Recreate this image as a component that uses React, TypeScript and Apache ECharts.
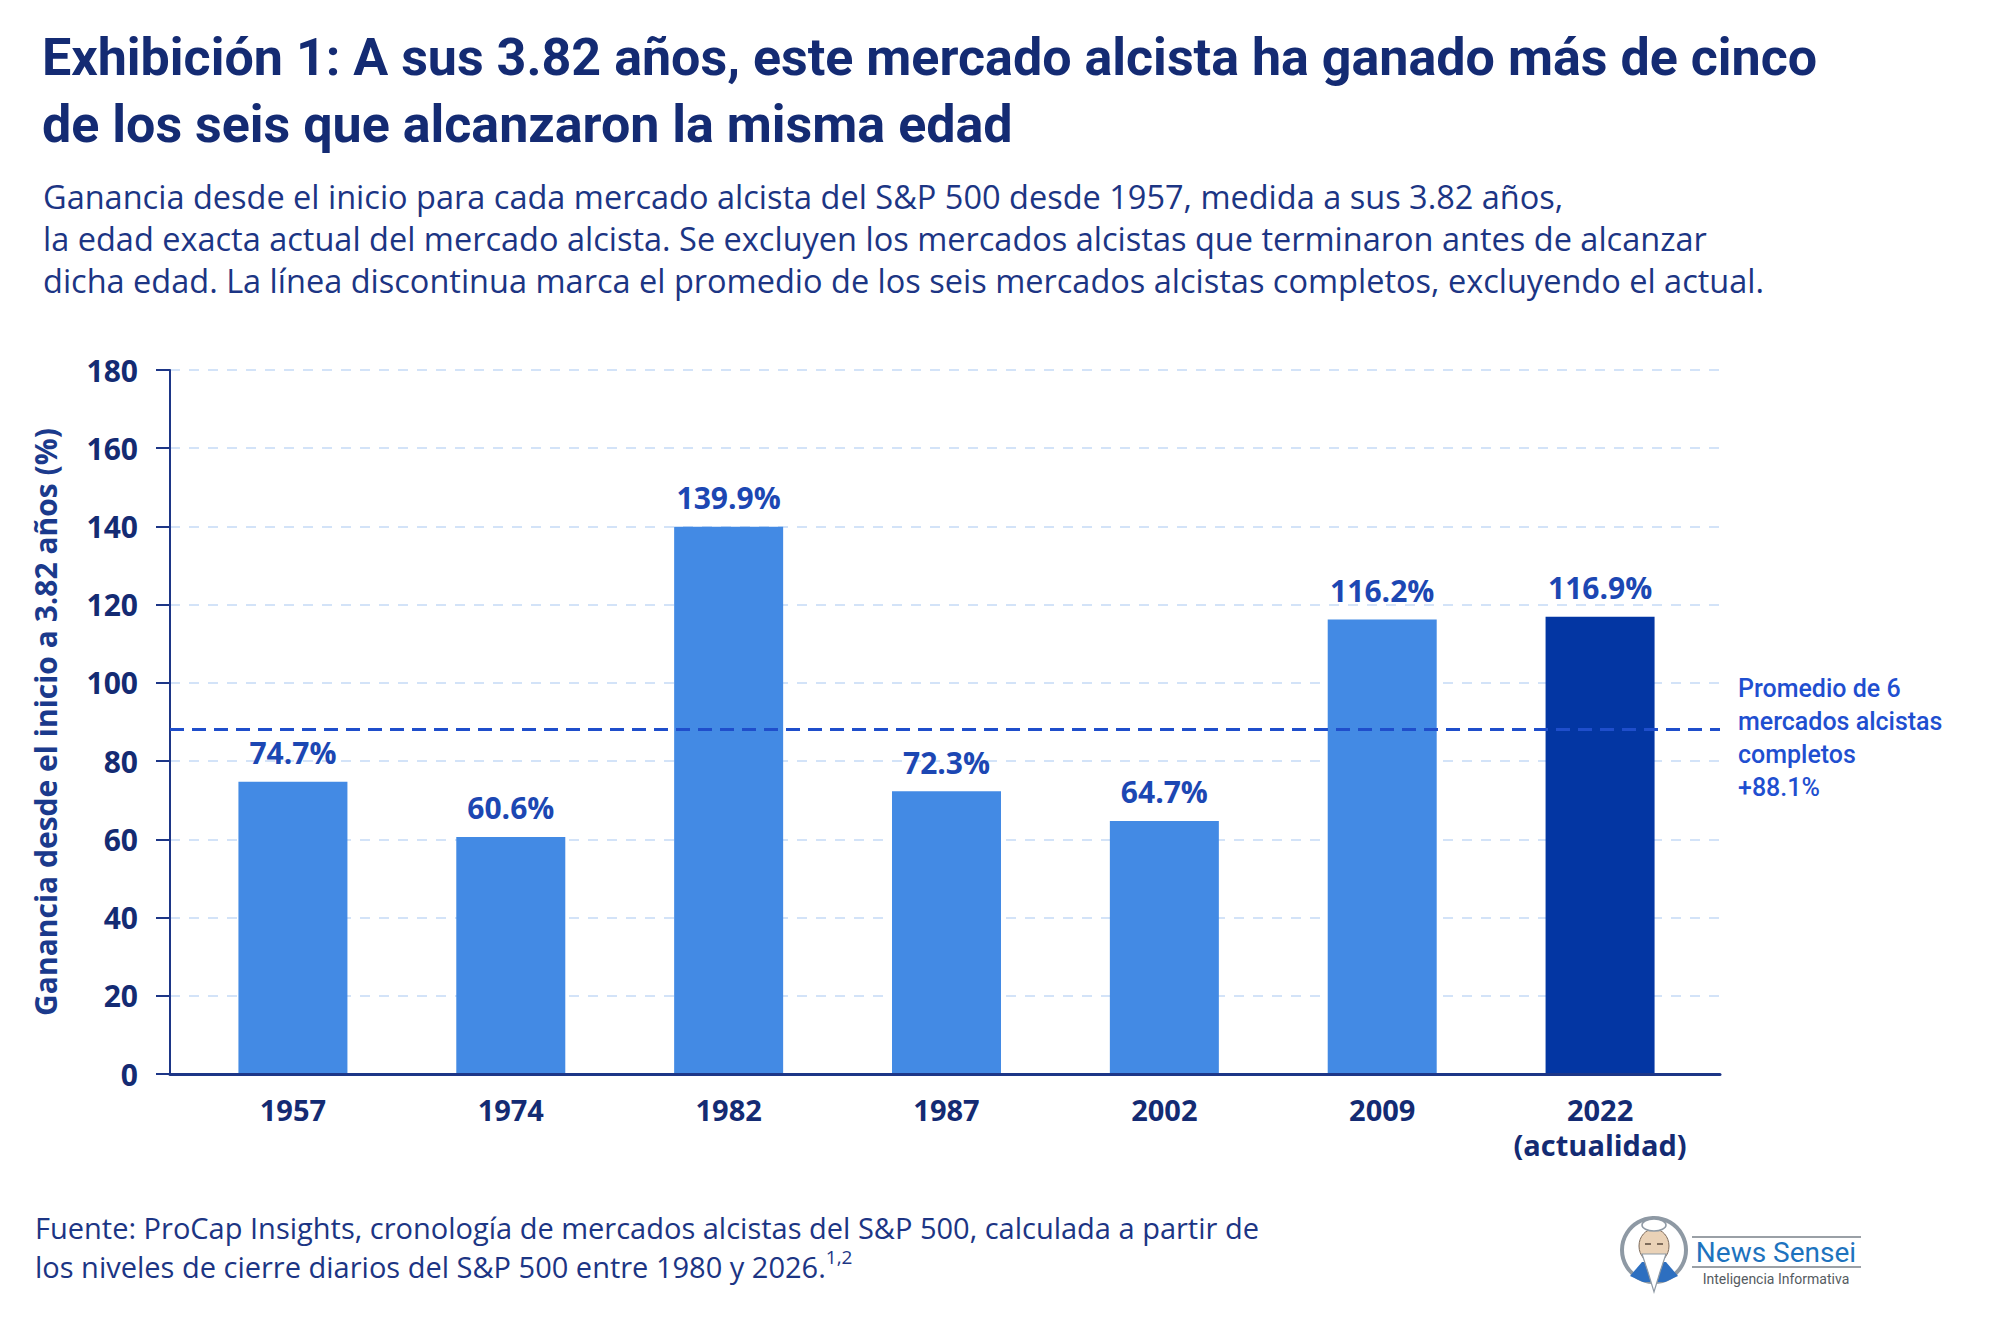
import React, { useEffect, useRef } from "react";
import * as echarts from "echarts";

// ---------- data ----------
const CATEGORIES = ["1957", "1974", "1982", "1987", "2002", "2009", "2022\n(actualidad)"];
const GAINS = [74.7, 60.6, 139.9, 72.3, 64.7, 116.2, 116.9];
const CURRENT_INDEX = 6;
const AVERAGE = 88.1;
const Y_MIN = 0;
const Y_MAX = 180;
const Y_STEP = 20;

const TITLE_LINES = [
  "Exhibición 1: A sus 3.82 años, este mercado alcista ha ganado más de cinco",
  "de los seis que alcanzaron la misma edad",
];
const SUBTITLE_LINES = [
  "Ganancia desde el inicio para cada mercado alcista del S&P 500 desde 1957, medida a sus 3.82 años,",
  "la edad exacta actual del mercado alcista. Se excluyen los mercados alcistas que terminaron antes de alcanzar",
  "dicha edad. La línea discontinua marca el promedio de los seis mercados alcistas completos, excluyendo el actual.",
];
const Y_AXIS_NAME = "Ganancia desde el inicio a 3.82 años (%)";
const AVG_LABEL = ["Promedio de 6", "mercados alcistas", "completos", "+" + AVERAGE.toFixed(1) + "%"];
const SOURCE_LINE_1 = "Fuente: ProCap Insights, cronología de mercados alcistas del S&P 500, calculada a partir de";
const SOURCE_LINE_2 = "los niveles de cierre diarios del S&P 500 entre 1980 y 2026.";
const SOURCE_SUP = "1,2";

// ---------- styles ----------
const NAVY = "#142b73";
const TEXT_NAVY = "#1c3584";
const BAR_BLUE = "#438ae4";
const BAR_DARK = "#0336a3";
const LABEL_BLUE = "#1c47b3";
const AXIS_NAVY = "#1d3687";
const AVG_BLUE = "#1f4fd0";

export default function App() {
  const ref = useRef<HTMLDivElement>(null);

  useEffect(() => {
    if (!ref.current) return;
    const chart = echarts.init(ref.current, null, { renderer: "svg" });

    const gridTop = 370;
    const gridBottom = 255;

    const avgText = "{sp| }\n" + AVG_LABEL.map((l) => "{t|" + l + "}").join("\n");

    const option: any = {
      animation: false,
      backgroundColor: "#ffffff",
      grid: [
        { left: 170, right: 280, top: gridTop, bottom: gridBottom },
        { left: 184, right: 291, top: gridTop, bottom: gridBottom },
      ],
      xAxis: [
        {
          gridIndex: 0,
          type: "category",
          data: CATEGORIES,
          z: 10,
          axisLine: { show: true, lineStyle: { color: AXIS_NAVY, width: 3 } },
          axisTick: { show: false },
          axisLabel: { show: false },
          splitLine: { show: false },
        },
        {
          gridIndex: 1,
          type: "category",
          data: CATEGORIES,
          axisLine: { show: false },
          axisTick: { show: false },
          axisLabel: {
            interval: 0,
            hideOverlap: false,
            margin: 18,
            color: NAVY,
            fontFamily: "Open Sans",
            fontWeight: 700,
            fontSize: 29,
            lineHeight: 35,
          },
        },
      ],
      yAxis: [
        {
          gridIndex: 0,
          type: "value",
          min: Y_MIN,
          max: Y_MAX,
          interval: Y_STEP,
          name: Y_AXIS_NAME,
          nameLocation: "middle",
          nameGap: 110,
          nameTextStyle: {
            color: "#1b3a8c",
            fontFamily: "Open Sans",
            fontWeight: 700,
            fontSize: 30,
          },
          axisLine: { show: true, lineStyle: { color: AXIS_NAVY, width: 2 } },
          axisTick: { show: true, length: 14, lineStyle: { color: AXIS_NAVY, width: 2 } },
          axisLabel: {
            margin: 32,
            color: NAVY,
            fontFamily: "Open Sans",
            fontWeight: 700,
            fontSize: 30,
          },
          splitLine: {
            show: true,
            lineStyle: { color: "#d3e3f8", width: 2, type: [10, 9] },
          },
        },
        {
          gridIndex: 1,
          type: "value",
          min: Y_MIN,
          max: Y_MAX,
          interval: Y_STEP,
          show: false,
          splitLine: { show: false },
        },
      ],
      series: [
        {
          type: "bar",
          xAxisIndex: 1,
          yAxisIndex: 1,
          barWidth: 109,
          data: GAINS.map((v, i) => ({
            value: v,
            itemStyle: { color: i === CURRENT_INDEX ? BAR_DARK : BAR_BLUE },
          })),
          label: {
            show: true,
            position: "top",
            distance: 14,
            color: LABEL_BLUE,
            fontFamily: "Open Sans",
            fontWeight: 700,
            fontSize: 30,
            formatter: (p: any) => Number(p.value).toFixed(1) + "%",
          },
        },
        {
          type: "line",
          xAxisIndex: 0,
          yAxisIndex: 0,
          data: [],
          markLine: {
            silent: true,
            symbol: "none",
            lineStyle: { color: "#1f4ecb", width: 3, type: [14, 8] },
            label: {
              show: true,
              position: "end",
              distance: 18,
              formatter: avgText,
              align: "left",
              rich: {
                sp: { fontSize: 2, lineHeight: 18 },
                t: {
                  color: AVG_BLUE,
                  fontFamily: "Roboto",
                  fontWeight: 500,
                  fontSize: 25,
                  lineHeight: 33,
                  align: "left",
                },
              },
            },
            data: [{ yAxis: AVERAGE }],
          },
        },
      ],
      graphic: [
        ...TITLE_LINES.map((t, i) => ({
          type: "text",
          x: 42,
          y: 57 + i * 67,
          style: {
            text: t,
            fill: NAVY,
            fontFamily: "Roboto",
            fontWeight: 700,
            fontSize: 52,
            align: "left",
            verticalAlign: "middle",
          },
        })),
        ...SUBTITLE_LINES.map((t, i) => ({
          type: "text",
          x: 43,
          y: 196 + i * 42,
          style: {
            text: t,
            fill: TEXT_NAVY,
            fontFamily: "Open Sans",
            fontWeight: 400,
            fontSize: 32.5,
            align: "left",
            verticalAlign: "middle",
          },
        })),
        {
          type: "text",
          x: 35,
          y: 1227,
          style: {
            text: SOURCE_LINE_1,
            fill: TEXT_NAVY,
            fontFamily: "Open Sans",
            fontWeight: 400,
            fontSize: 29,
            align: "left",
            verticalAlign: "middle",
          },
        },
        {
          type: "text",
          x: 35,
          y: 1247,
          style: {
            text: "{n|" + SOURCE_LINE_2 + "}{s|" + SOURCE_SUP + "}",
            align: "left",
            verticalAlign: "top",
            rich: {
              n: {
                fill: TEXT_NAVY,
                color: TEXT_NAVY,
                fontFamily: "Open Sans",
                fontSize: 29,
                lineHeight: 38,
              },
              s: {
                fill: TEXT_NAVY,
                color: TEXT_NAVY,
                fontFamily: "Open Sans",
                fontSize: 19,
                lineHeight: 22,
                verticalAlign: "top",
              },
            },
          },
        },
        // ---- logo ----
        {
          type: "group",
          children: [
            { type: "circle", shape: { cx: 1654, cy: 1250, r: 32 }, style: { fill: "#ffffff", stroke: "#8e99a4", lineWidth: 4 } },
            { type: "polygon", shape: { points: [[1630, 1276], [1642, 1262], [1666, 1262], [1678, 1276], [1665, 1282], [1643, 1282]] }, style: { fill: "#2d6fc0" } },
            { type: "ellipse", shape: { cx: 1654, cy: 1246, rx: 15, ry: 17 }, style: { fill: "#ead2b7", stroke: "#7d6a5a", lineWidth: 1 } },
            { type: "ellipse", shape: { cx: 1654, cy: 1225, rx: 12, ry: 6 }, style: { fill: "#ffffff", stroke: "#8e99a4", lineWidth: 1.5 } },
            { type: "polygon", shape: { points: [[1642, 1254], [1666, 1254], [1660, 1272], [1654, 1292], [1648, 1272]] }, style: { fill: "#ffffff", stroke: "#8e99a4", lineWidth: 1.2 } },
            { type: "line", shape: { x1: 1645, y1: 1244, x2: 1651, y2: 1244 }, style: { stroke: "#5a4a3d", lineWidth: 1.5 } },
            { type: "line", shape: { x1: 1657, y1: 1244, x2: 1663, y2: 1244 }, style: { stroke: "#5a4a3d", lineWidth: 1.5 } },
            { type: "line", shape: { x1: 1692, y1: 1237, x2: 1861, y2: 1237 }, style: { stroke: "#9aa0a6", lineWidth: 2 } },
            { type: "line", shape: { x1: 1692, y1: 1267, x2: 1861, y2: 1267 }, style: { stroke: "#9aa0a6", lineWidth: 2 } },
            {
              type: "text",
              x: 1776,
              y: 1252,
              style: { text: "News Sensei", fill: "#1e73be", fontFamily: "Roboto", fontWeight: 400, fontSize: 28, align: "center", verticalAlign: "middle" },
            },
            {
              type: "text",
              x: 1776,
              y: 1279,
              style: { text: "Inteligencia Informativa", fill: "#555b61", fontFamily: "Roboto", fontWeight: 400, fontSize: 14, align: "center", verticalAlign: "middle" },
            },
          ],
        },
      ],
    };

    chart.setOption(option);
    return () => chart.dispose();
  }, []);

  return (
    <div
      ref={ref}
      style={{ position: "fixed", left: 0, top: 0, width: 2000, height: 1329, background: "#ffffff" }}
    />
  );
}
